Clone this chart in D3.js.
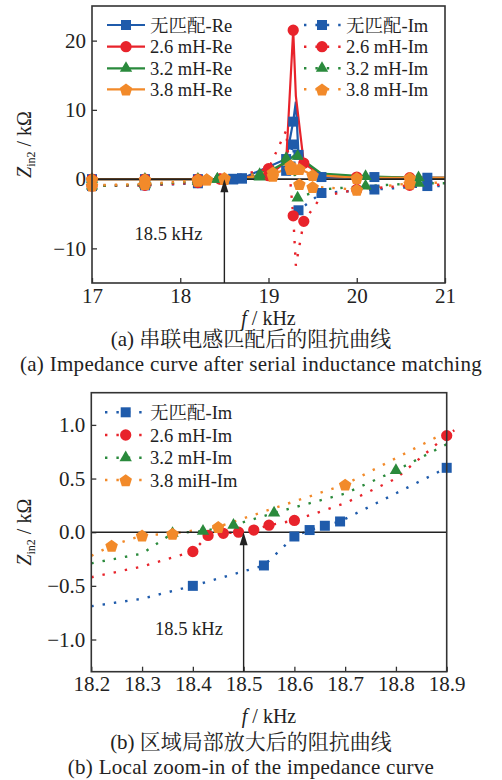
<!DOCTYPE html>
<html>
<head>
<meta charset="utf-8">
<script src="https://cdn.jsdelivr.net/npm/d3@7"></script>
<style>
  body { margin: 0; background: #fff; }
</style>
</head>
<body>
<script>
// ---- data ----
const topTicksX = [17, 18, 19, 20, 21];
const topTicksY = [-10, 0, 10, 20];
const zoomTicksX = [18.2, 18.3, 18.4, 18.5, 18.6, 18.7, 18.8, 18.9];
const zoomTicksY = [-1, -0.5, 0, 0.5, 1];

const configs = ["无匹配", "2.6 mH", "3.2 mH", "3.8 mH"];
const zoomLabels = ["无匹配-Im", "2.6 mH-Im", "3.2 mH-Im", "3.8 miH-Im"];

// (a) full sweep, kHz / kOhm ; mk = 1 where a marker is drawn
const fNone = [17.0, 17.6, 18.2, 18.6, 18.7, 19.2, 19.28, 19.31, 19.34, 19.6, 20.2, 20.8, 21.0];
const reNone = [0.0, 0.0, 0.0, 0.05, 0.1, 2.9, 8.3, 11.2, 3.5, 0.3, 0.3, 0.2, 0.2];
const imNone = [-1.0, -0.9, -0.6, -0.05, 0.1, 1.2, 5.0, -1.0, -4.5, -2.0, -1.5, -1.0, -1.0];
const mkNone = [1, 1, 1, 1, 1, 1, 1, 0, 1, 1, 1, 1, 0];

const f26 = [17.0, 17.6, 18.2, 18.45, 19.0, 19.2, 19.28, 19.31, 19.4, 19.6, 20.0, 20.6, 21.0];
const re26 = [0.0, 0.0, 0.0, 0.05, 0.5, 2.5, 21.5, 12.0, 2.3, 0.5, 0.3, 0.2, 0.2];
const im26 = [-1.0, -0.9, -0.5, 0.0, 1.5, 7.0, -5.3, -12.5, -6.1, -2.5, -1.5, -0.9, -0.8];
const mk26 = [1, 1, 1, 1, 1, 0, 1, 0, 1, 0, 1, 1, 0];

const f32 = [17.0, 17.6, 18.2, 18.42, 18.9, 19.2, 19.3, 19.33, 19.6, 20.1, 20.7, 21.0];
const re32 = [0.0, 0.0, 0.0, 0.0, 0.3, 2.5, 3.5, 3.3, 0.8, 0.4, 0.2, 0.2];
const im32 = [-1.0, -0.8, -0.3, 0.0, 0.7, 3.0, 0.5, -2.7, -1.5, -1.0, -0.6, -0.6];
const mk32 = [1, 1, 1, 1, 1, 1, 0, 1, 0, 1, 1, 0];

const f38 = [17.0, 17.6, 18.2, 18.3, 18.5, 19.05, 19.25, 19.32, 19.35, 19.5, 20.0, 20.6, 21.0];
const re38 = [0.0, 0.0, 0.0, 0.0, 0.05, 0.5, 2.0, 1.8, 1.5, 0.6, 0.2, 0.2, 0.2];
const im38 = [-0.9, -0.7, -0.2, -0.03, 0.2, 1.0, 1.5, 0.5, -0.7, -1.1, -1.5, -0.6, -0.5];
const mk38 = [1, 1, 1, 1, 1, 1, 1, 0, 1, 1, 1, 1, 0];

// (b) zoom on the imaginary part
const zfNone = [18.2, 18.3, 18.4, 18.54, 18.6, 18.63, 18.66, 18.69, 18.9, 18.915];
const zimNone = [-0.69, -0.62, -0.5, -0.31, -0.04, 0.02, 0.06, 0.1, 0.6, 0.62];
const zmkNone = [0, 0, 1, 1, 1, 1, 1, 1, 1, 0];

const zf26 = [18.2, 18.3, 18.4, 18.43, 18.46, 18.49, 18.52, 18.55, 18.6, 18.7, 18.8, 18.9, 18.915];
const zim26 = [-0.42, -0.32, -0.18, -0.03, -0.01, 0.0, 0.02, 0.065, 0.11, 0.27, 0.5, 0.9, 0.95];
const zmk26 = [0, 0, 1, 1, 1, 1, 1, 1, 1, 0, 0, 1, 0];

const zf32 = [18.2, 18.3, 18.36, 18.42, 18.48, 18.56, 18.7, 18.8, 18.9];
const zim32 = [-0.29, -0.2, -0.01, 0.01, 0.065, 0.18, 0.36, 0.575, 0.82];
const zmk32 = [0, 0, 1, 1, 1, 1, 0, 1, 0];

const zf38 = [18.2, 18.24, 18.3, 18.36, 18.45, 18.7, 18.91];
const zim38 = [-0.22, -0.125, -0.03, -0.013, 0.05, 0.445, 0.96];
const zmk38 = [0, 1, 1, 1, 1, 1, 0];

// ---- styling ----
const colors = ["#1f5bab", "#e8232b", "#2a8a3c", "#f28a2a"];
const shapes = ["square", "circle", "triangle", "pentagon"];
const FONT = '"Liberation Serif", "Noto Serif CJK SC", serif';

const zip = (f, v, m) => f.map((x, i) => ({ x: x, y: v[i], m: m[i] }));

const topSeries = [
  { f: fNone, re: reNone, im: imNone, mk: mkNone },
  { f: f26, re: re26, im: im26, mk: mk26 },
  { f: f32, re: re32, im: im32, mk: mk32 },
  { f: f38, re: re38, im: im38, mk: mk38 }
];
const zoomSeries = [
  zip(zfNone, zimNone, zmkNone),
  zip(zf26, zim26, zmk26),
  zip(zf32, zim32, zmk32),
  zip(zf38, zim38, zmk38)
];

const markerPath = shape => {
  if (shape === "pentagon") {
    const r = 6.6;
    const pts = d3.range(5).map(k => {
      const a = -Math.PI / 2 + (k * 2 * Math.PI) / 5;
      return [r * Math.cos(a), r * Math.sin(a) + 0.8];
    });
    return "M" + pts.map(p => p.join(",")).join("L") + "Z";
  }
  const type = {
    square: d3.symbolSquare,
    circle: d3.symbolCircle,
    triangle: d3.symbolTriangle
  }[shape];
  const size = { square: 100, circle: 100, triangle: 66 }[shape];
  return d3.symbol().type(type).size(size)();
};

const svg = d3
  .select("body")
  .append("svg")
  .attr("width", 502)
  .attr("height", 780)
  .style("font-family", FONT);

const DOTS = "2.4,9";

const label = (g, x, y, size, str) =>
  g.append("text")
    .attr("x", x)
    .attr("y", y)
    .attr("font-size", size)
    .attr("fill", "#222")
    .style("font-family", FONT)
    .text(str);

function panel(opt) {
  const x = d3.scaleLinear().domain(opt.xDomain).range([opt.left, opt.right]);
  const y = d3.scaleLinear().domain(opt.yDomain).range([opt.bottom, opt.top]);
  const g = svg.append("g");

  // axes, ticks pointing inward
  g.append("g")
    .attr("transform", `translate(0,${opt.bottom})`)
    .call(d3.axisBottom(x).tickValues(opt.xTicks).tickSize(-5).tickPadding(5).tickFormat(opt.xFormat))
    .call(a => a.select(".domain").remove())
    .call(a => a.selectAll("line").attr("stroke", "#333").attr("stroke-width", 1.3))
    .call(a => a.selectAll("text").attr("font-size", 21).attr("fill", "#222")
      .attr("dy", "0.7em").style("font-family", FONT));

  g.append("g")
    .attr("transform", `translate(${opt.left},0)`)
    .call(d3.axisLeft(y).tickValues(opt.yTicks).tickSize(-5).tickPadding(6).tickFormat(opt.yFormat))
    .call(a => a.select(".domain").remove())
    .call(a => a.selectAll("line").attr("stroke", "#333").attr("stroke-width", 1.3))
    .call(a => a.selectAll("text").attr("font-size", 21).attr("fill", "#222").style("font-family", FONT));

  const line = d3.line().x(d => x(d.x)).y(d => y(d.y));

  opt.draw(g, x, y, line);

  g.append("rect")
    .attr("x", opt.left)
    .attr("y", opt.top)
    .attr("width", opt.right - opt.left)
    .attr("height", opt.bottom - opt.top)
    .attr("fill", "none")
    .attr("stroke", "#333")
    .attr("stroke-width", 1.6);

  // arrow at 18.5 kHz
  const ax = x(18.5);
  g.append("line")
    .attr("x1", ax).attr("x2", ax)
    .attr("y1", opt.bottom).attr("y2", y(0) + 10)
    .attr("stroke", "#222").attr("stroke-width", 1.4);
  g.append("path")
    .attr("d", `M${ax},${y(0)}L${ax - 4},${y(0) + 13}L${ax + 4},${y(0) + 13}Z`)
    .attr("fill", "#222");
  label(g, opt.arrowLabel[0], opt.arrowLabel[1], 18.5, "18.5 kHz").attr("text-anchor", "middle");

  // axis titles
  const xt = label(g, (opt.left + opt.right) / 2, opt.xTitleY, 20, null).attr("text-anchor", "middle");
  xt.append("tspan").attr("font-style", "italic").text("f");
  xt.append("tspan").text(" / kHz");

  const yt = label(g, 0, 0, 20, null)
    .attr("transform", `translate(31,${(opt.top + opt.bottom) / 2}) rotate(-90)`)
    .attr("text-anchor", "middle");
  yt.append("tspan").attr("font-style", "italic").text("Z");
  yt.append("tspan").attr("font-size", 12).attr("dy", 4).text("in2");
  yt.append("tspan").attr("dy", -4).text(" / kΩ");

  label(g, 251, opt.capY[0], 21, opt.caption[0]).attr("text-anchor", "middle");
  label(g, 251, opt.capY[1], 21, opt.caption[1])
    .attr("text-anchor", "middle")
    .attr("letter-spacing", 0.3);
}

const drawMarkers = (g, pts, x, y, i) => {
  g.append("g")
    .selectAll("path")
    .data(pts.filter(d => d.m))
    .enter()
    .append("path")
    .attr("d", markerPath(shapes[i]))
    .attr("transform", d => `translate(${x(d.x)},${y(d.y)})`)
    .attr("fill", colors[i]);
};

// (a)
panel({
  left: 92, right: 445, top: 6, bottom: 283,
  xDomain: [17, 21], yDomain: [-15, 25],
  xTicks: topTicksX, yTicks: topTicksY,
  xFormat: d3.format("d"), yFormat: d3.format("d"),
  arrowLabel: [168.5, 240], xTitleY: 324.5,
  capY: [346, 371],
  caption: ["(a)  串联电感匹配后的阻抗曲线", "(a)  Impedance curve after serial inductance matching"],
  draw: (g, x, y, line) => {
    topSeries.forEach((s, i) => {
      const re = zip(s.f, s.re, s.mk);
      const im = zip(s.f, s.im, s.mk);
      g.append("path").datum(im).attr("d", line).attr("fill", "none")
        .attr("stroke", colors[i]).attr("stroke-width", 2.4).attr("stroke-dasharray", DOTS);
      g.append("path").datum(re).attr("d", line).attr("fill", "none")
        .attr("stroke", colors[i]).attr("stroke-width", 2.2);
    });
    g.append("line")
      .attr("x1", x(17)).attr("x2", x(21))
      .attr("y1", y(0)).attr("y2", y(0))
      .attr("stroke", "#222").attr("stroke-width", 1.6);
    topSeries.forEach((s, i) => {
      drawMarkers(g, zip(s.f, s.re, s.mk), x, y, i);
      drawMarkers(g, zip(s.f, s.im, s.mk), x, y, i);
    });

    // legend
    const rows = [25, 46.7, 68.3, 89.3];
    configs.forEach((name, i) => {
      const ly = rows[i];
      g.append("line").attr("x1", 107).attr("x2", 145).attr("y1", ly).attr("y2", ly)
        .attr("stroke", colors[i]).attr("stroke-width", 2.2);
      g.append("path").attr("d", markerPath(shapes[i]))
        .attr("transform", `translate(126,${ly})`).attr("fill", colors[i]);
      label(g, 150, ly + 6.5, 18.5, name + "-Re");

      g.append("line").attr("x1", 304).attr("x2", 342).attr("y1", ly).attr("y2", ly)
        .attr("stroke", colors[i]).attr("stroke-width", 2.4).attr("stroke-dasharray", DOTS);
      g.append("path").attr("d", markerPath(shapes[i]))
        .attr("transform", `translate(322,${ly})`).attr("fill", colors[i]);
      label(g, 346, ly + 6.5, 18.5, name + "-Im");
    });
  }
});

// (b)
panel({
  left: 91.3, right: 446.7, top: 392.7, bottom: 671.7,
  xDomain: [18.2, 18.9], yDomain: [-1.3, 1.3],
  xTicks: zoomTicksX, yTicks: zoomTicksY,
  xFormat: d3.format(".1f"), yFormat: d3.format(".1f"),
  arrowLabel: [189, 635], xTitleY: 722.5,
  capY: [749, 774],
  caption: ["(b)  区域局部放大后的阻抗曲线", "(b)  Local zoom-in of the impedance curve"],
  draw: (g, x, y, line) => {
    zoomSeries.forEach((pts, i) => {
      g.append("path").datum(pts).attr("d", line).attr("fill", "none")
        .attr("stroke", colors[i]).attr("stroke-width", 2.4).attr("stroke-dasharray", DOTS);
    });
    g.append("line")
      .attr("x1", x(18.2)).attr("x2", x(18.9))
      .attr("y1", y(0)).attr("y2", y(0))
      .attr("stroke", "#222").attr("stroke-width", 1.6);
    zoomSeries.forEach((pts, i) => drawMarkers(g, pts, x, y, i));

    const rows = [412.3, 435, 457.7, 480];
    zoomLabels.forEach((name, i) => {
      const ly = rows[i];
      g.append("line").attr("x1", 105).attr("x2", 144).attr("y1", ly).attr("y2", ly)
        .attr("stroke", colors[i]).attr("stroke-width", 2.4).attr("stroke-dasharray", DOTS);
      g.append("path").attr("d", markerPath(shapes[i]))
        .attr("transform", `translate(125.7,${ly})`).attr("fill", colors[i]);
      label(g, 150, ly + 6.5, 18.5, name);
    });
  }
});
</script>
</body>
</html>
